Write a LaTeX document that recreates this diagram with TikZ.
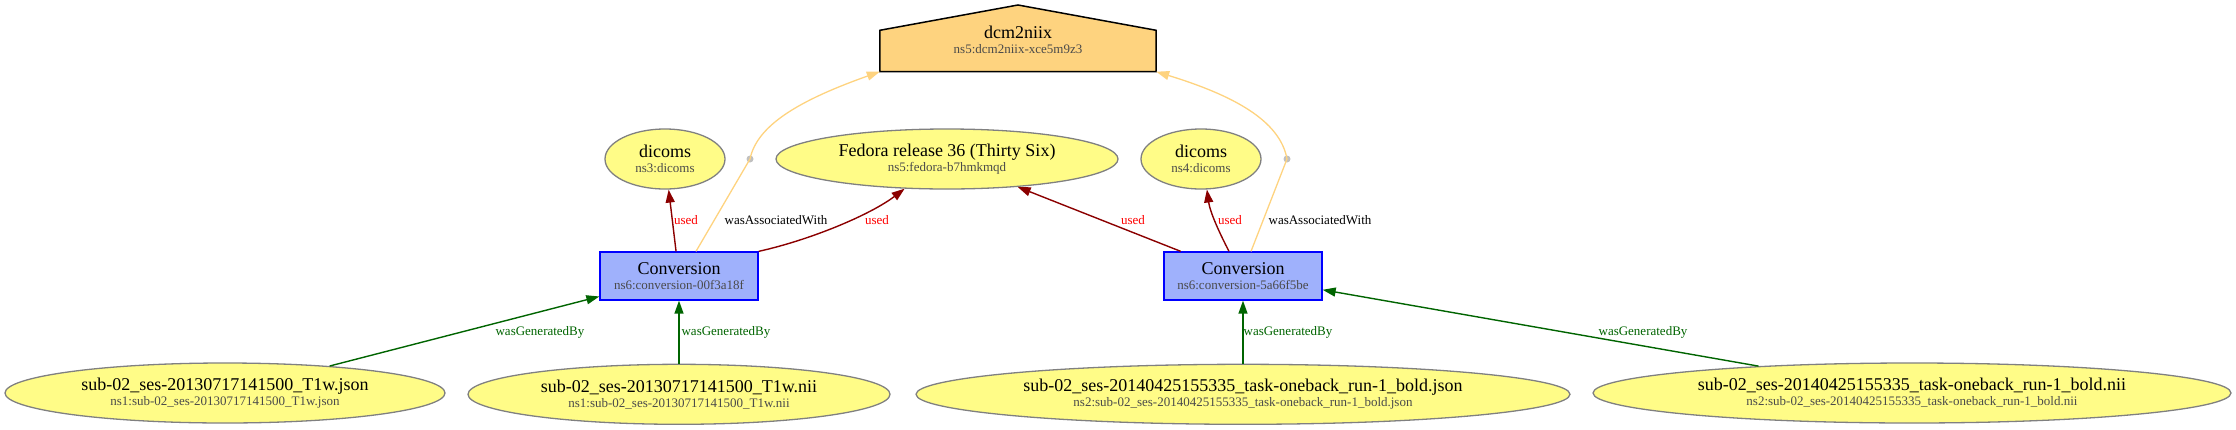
\documentclass[tikz,border=0pt]{standalone}
\usepackage{fontspec}
\setmainfont{Liberation Serif}
\usepackage{xcolor}
\usetikzlibrary{shapes,arrows.meta,positioning,calc}
\definecolor{entyellow}{HTML}{FFFC87}
\definecolor{entgray}{HTML}{808080}
\definecolor{actblue}{HTML}{9FB1FC}
\definecolor{actline}{HTML}{0000FF}
\definecolor{agentorange}{HTML}{FED37F}
\definecolor{usedred}{HTML}{8B0000}
\definecolor{usedlabel}{HTML}{FF0000}
\definecolor{gendgreen}{HTML}{006400}
\definecolor{subgray}{HTML}{4A4A4A}
\definecolor{dotgray}{HTML}{C0C0C0}

\newcommand{\provlbl}[2]{#1\\{\fontsize{13}{15}\selectfont\color{subgray}#2}}

\begin{document}
\begin{tikzpicture}[
        x=1pt, y=-1pt,
        every node/.style={font=\fontsize{18}{15}\selectfont, align=center},
        entity/.style={ellipse, draw=entgray, fill=entyellow, line width=1.3pt, inner xsep=-25pt, inner ysep=0pt, minimum height=60pt},
        activity/.style={rectangle, draw=actline, fill=actblue, line width=1.3pt, minimum width=158pt, minimum height=48pt, inner sep=0pt},
        assocdot/.style={circle, fill=dotgray, inner sep=0pt, minimum size=7pt},
        edgelbl/.style={font=\fontsize{13}{13}\selectfont, inner sep=0pt},
        used/.style={draw=usedred, line width=1.4pt, -{Triangle[length=13pt,width=9pt]}},
        gen/.style={draw=gendgreen, line width=1.4pt, -{Triangle[length=13pt,width=9pt]}},
        assoc/.style={draw=agentorange, line width=1.3pt, -{Triangle[length=13pt,width=9pt]}}
    ]
        \useasboundingbox (0,0) rectangle (2236,429);

        % agent
        \node[minimum width=276pt, minimum height=41pt, inner sep=0pt] (dcmbox) at (1018,51) {};
        \filldraw[fill=agentorange, draw=black, line width=1.5pt] (dcmbox.south west) -- (dcmbox.north west) -- (1018,5) -- (dcmbox.north east) -- (dcmbox.south east) -- cycle;
        \node (dcm) at (1018,40) {\provlbl{dcm2niix}{ns5:dcm2niix-xce5m9z3}};

        % activities
        \node[activity] (conv1) at (679,276) {\provlbl{Conversion}{ns6:conversion-00f3a18f}};
        \node[activity] (conv2) at (1243,276) {\provlbl{Conversion}{ns6:conversion-5a66f5be}};

        % used entities
        \node[entity, minimum width=120pt] (dicoms3) at (665,159) {\provlbl{dicoms}{ns3:dicoms}};
        \node[entity, minimum width=342pt] (fedora) at (947,159) {\provlbl{Fedora release 36 (Thirty Six)}{ns5:fedora-b7hmkmqd}};
        \node[entity, minimum width=120pt] (dicoms4) at (1201,159) {\provlbl{dicoms}{ns4:dicoms}};
        \node[assocdot] (assoc1) at (750,159) {};
        \node[assocdot] (assoc2) at (1287,159) {};

        % generated entities
        \node[entity, minimum width=440pt] (json1) at (225,393) {\provlbl{sub-02\_ses-20130717141500\_T1w.json}{ns1:sub-02\_ses-20130717141500\_T1w.json}};
        \node[entity, minimum width=422pt, below=63pt of conv1] (nii1) {\provlbl{sub-02\_ses-20130717141500\_T1w.nii}{ns1:sub-02\_ses-20130717141500\_T1w.nii}};
        \node[entity, minimum width=654pt, below=63pt of conv2] (json2) {\provlbl{sub-02\_ses-20140425155335\_task-oneback\_run-1\_bold.json}{ns2:sub-02\_ses-20140425155335\_task-oneback\_run-1\_bold.json}};
        \node[entity, minimum width=638pt] (nii2) at (1912,393) {\provlbl{sub-02\_ses-20140425155335\_task-oneback\_run-1\_bold.nii}{ns2:sub-02\_ses-20140425155335\_task-oneback\_run-1\_bold.nii}};

        \draw[used] (conv1) -- node[edgelbl, usedlabel, right=1pt] (u1) {used} (dicoms3);
        \draw[used] (conv1.north east) .. controls (810,240) and (870,215) .. (fedora.215) node[edgelbl, usedlabel] (u2) at (877,220) {used};
        \draw[used] (conv2) -- (fedora) node[edgelbl, usedlabel] (u3) at (1133,220) {used};
        \draw[used] (conv2.north) ++(-14,0) coordinate (c2used) (c2used) .. controls (1219,232) and (1210,212) .. (dicoms4.281) node[edgelbl, usedlabel] (u4) at (1230,220) {used};

        \draw[assoc] (conv1.north) ++(17,0) coordinate (c1assoc) (c1assoc) -- (assoc1.center) .. controls (757,125) and (800,100) .. (dcmbox.south west) node[edgelbl] (a1) at (776,220) {wasAssociatedWith};
        \draw[assoc] (conv2.north) ++(8,0) coordinate (c2assoc) (c2assoc) -- (assoc2.center) .. controls (1280,120) and (1232,95) .. (dcmbox.south east) node[edgelbl] (a2) at (1320,220) {wasAssociatedWith};

        \draw[gen] (json1) -- (conv1) node[edgelbl, gendgreen] (g1) at (540,332) {wasGeneratedBy};
        \draw[gen] (nii1) -- (conv1) node[edgelbl, gendgreen] (g2) at (726,332) {wasGeneratedBy};
        \draw[gen] (json2) -- (conv2) node[edgelbl, gendgreen] (g3) at (1288,332) {wasGeneratedBy};
        \draw[gen] (nii2) -- (conv2) node[edgelbl, gendgreen] (g4) at (1643,332) {wasGeneratedBy};
    \end{tikzpicture}
\end{document}
